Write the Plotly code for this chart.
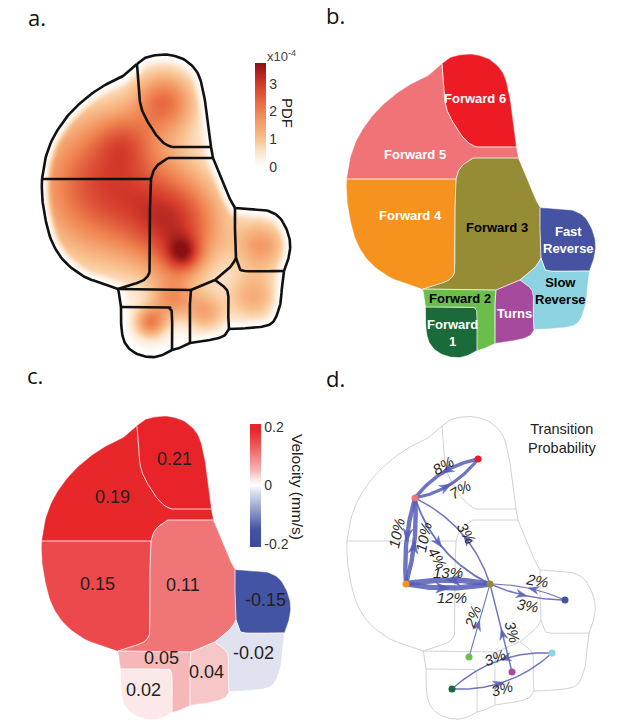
import numpy as np
import plotly.graph_objects as go
from plotly.colors import sample_colorscale

W, H = 617, 724
BOX_W, BOX_H = 305, 362
FONT = "Liberation Sans, Arial, sans-serif"

# ---------------- data ----------------
regions = ["Forward 6", "Forward 5", "Forward 4", "Forward 3", "Fast Reverse",
           "Slow Reverse", "Turns", "Forward 2", "Forward 1"]
region_labels = ["Forward 6", "Forward 5", "Forward 4", "Forward 3", "Fast<br>Reverse",
                 "Slow<br>Reverse", "Turns", "Forward 2", "Forward<br>1"]
region_colors = ["#ed1c24", "#f07377", "#f6921e", "#968c35", "#4653a2",
                 "#8dd3e1", "#a54a9c", "#6abf4b", "#1b6a39"]
label_font_colors = ["white", "white", "white", "black", "white",
                     "black", "white", "black", "white"]
velocity = [0.21, 0.19, 0.15, 0.11, -0.15, -0.02, 0.04, 0.05, 0.02]

# PDF density peaks (units x10^-4)
pdf_peak_u = [105, 123, 178, 183, 175, 165, 262, 253, 205, 150, 172]
pdf_peak_v = [185, 140, 225, 253, 270, 100, 245, 296, 312, 322, 300]
pdf_peak_amp = [2.8, 0.9, 2.3, 1.5, 0.5, 1.9, 1.5, 1.3, 1.3, 1.9, 1.3]
pdf_peak_spread = [52, 20, 34, 12, 20, 22, 18, 18, 14, 11, 14]

pdf_ticks = [0, 1, 2, 3]
vel_ticks = [-0.2, 0, 0.2]
vel_ticktext = ["-0.2", "0", "0.2"]

edge_src = ["Forward 6", "Forward 5", "Forward 5", "Forward 4", "Forward 5", "Forward 3",
            "Forward 3", "Forward 4", "Fast Reverse", "Forward 3", "Forward 2", "Turns",
            "Slow Reverse", "Forward 1"]
edge_dst = ["Forward 5", "Forward 6", "Forward 4", "Forward 5", "Forward 3", "Forward 5",
            "Forward 4", "Forward 3", "Forward 3", "Fast Reverse", "Forward 3", "Forward 3",
            "Forward 1", "Slow Reverse"]
edge_pct = [8, 7, 10, 10, 4, 3, 13, 12, 2, 3, 2, 3, 3, 3]

# ---------------- layout / style ----------------
edge_bend = [7, 7, 4, 4, 12, 12, 4, 4, 4, 4, 0, 0, 11, 11]
ARROW_T = 0.42
edge_label_pos = [(138, 103), (155, 127), (91, 171), (118, 175), (133, 196), (162, 171),
                  (143, 210), (147, 235), (232, 218), (223, 243), (167, 255), (208, 270),
                  (190, 295), (197, 326)]
edge_label_angle = [-30, -30, -78, -78, 60, 60, 0, 0, 10, 10, -70, 75, -20, -15]

label_pos_b = [(170, 98), (110, 154), (105, 215), (192, 227), (263, 240),
               (255, 291), (209, 313), (155, 298), (147, 333)]
label_pos_c = [(174, 97), (112, 135), (97, 222), (183, 223), (265, 238),
               (253, 291), (206, 310), (161, 296), (143, 328)]
node_pos_d = [(173, 97), (110, 136), (101, 222), (185, 222), (260, 238),
              (247, 291), (207, 310), (164, 295), (147, 327)]

# shape geometry (local pixel coords of one panel box)
SEGS = {
    "O_top": [(137, 64), (145, 58), (157, 55), (170, 55), (185, 60), (197, 72), (203, 90),
              (207, 115), (210, 135), (211, 147)],
    "O_strip": [(211, 147), (212, 152), (213, 158)],
    "O_F3r": [(213, 158), (217, 168), (222, 180), (228, 195), (235, 208)],
    "O_FR": [(235, 208), (250, 209), (265, 210), (278, 216), (286, 228), (290, 242),
             (289, 256), (284, 271)],
    "O_SR": [(284, 271), (282, 285), (281, 300), (278, 312), (273, 322), (265, 326),
             (250, 328), (229, 329)],
    "O_Turns": [(229, 329), (225, 335), (215, 339), (190, 343)],
    "O_F2b": [(190, 343), (182, 347), (172, 350)],
    "O_F1": [(172, 350), (165, 354), (155, 357), (143, 356), (132, 351), (125, 343),
             (122, 333), (121, 320), (121, 307)],
    "O_F2l": [(121, 307), (120, 298), (118, 289)],
    "O_F4": [(118, 289), (102, 283), (85, 277), (65, 262), (52, 242), (45, 217),
             (42, 195), (42, 179)],
    "O_F5": [(42, 179), (45, 160), (52, 140), (63, 122), (75, 108), (90, 95), (105, 85),
             (120, 78), (130, 70), (137, 64)],
    "B_F6F5": [(137, 64), (138, 80), (139, 95), (142, 110), (149, 124), (157, 136),
               (165, 144), (172, 147)],
    "B_F6bot": [(172, 147), (211, 147)],
    "B_F3top": [(168, 158), (213, 158)],
    "B_F3tl": [(168, 158), (160, 163), (154, 170), (151, 179)],
    "B_F5F4": [(42, 179), (151, 179)],
    "B_F4F3": [(151, 179), (150, 200), (150, 240), (150, 268), (147, 277), (140, 282),
               (130, 285), (118, 289)],
    "B_F2top": [(118, 289), (191, 290)],
    "B_F3Tu": [(191, 290), (200, 286), (215, 280)],
    "B_F3SR": [(215, 280), (225, 272), (232, 265), (236, 258)],
    "B_F3FR": [(236, 258), (235, 240), (235, 222), (235, 208)],
    "B_FRSR": [(236, 258), (239, 266), (245, 271), (284, 271)],
    "B_TuSR": [(215, 280), (222, 285), (228, 293), (228, 310), (229, 329)],
    "B_TuF2": [(191, 290), (190, 300), (190, 320), (190, 343)],
    "B_F1F2": [(121, 307), (165, 307), (170, 309), (172, 315), (172, 350)],
}
REGION_PATHS = [
    [("O_top", 0), ("B_F6bot", 1), ("B_F6F5", 1)],
    [("O_F5", 0), ("B_F6F5", 0), ("B_F6bot", 0), ("O_strip", 0), ("B_F3top", 1),
     ("B_F3tl", 0), ("B_F5F4", 1)],
    [("B_F5F4", 0), ("B_F4F3", 0), ("O_F4", 0)],
    [("B_F3top", 0), ("O_F3r", 0), ("B_F3FR", 1), ("B_F3SR", 1), ("B_F3Tu", 1),
     ("B_F2top", 1), ("B_F4F3", 1), ("B_F3tl", 1)],
    [("O_FR", 0), ("B_FRSR", 1), ("B_F3FR", 0)],
    [("B_FRSR", 0), ("O_SR", 0), ("B_TuSR", 1), ("B_F3SR", 0)],
    [("B_F3Tu", 0), ("B_TuSR", 0), ("O_Turns", 0), ("B_TuF2", 1)],
    [("B_F2top", 0), ("B_TuF2", 0), ("O_F2b", 0), ("B_F1F2", 1), ("O_F2l", 0)],
    [("B_F1F2", 0), ("O_F1", 0)],
]
OUTLINE = ["O_top", "O_strip", "O_F3r", "O_FR", "O_SR", "O_Turns", "O_F2b", "O_F1",
           "O_F2l", "O_F4", "O_F5"]


def smooth(pts, n=8):
    P = np.array(pts, float)
    if len(P) < 3:
        return P
    ext = np.vstack([2 * P[0] - P[1], P, 2 * P[-1] - P[-2]])
    out = []
    for i in range(1, len(ext) - 2):
        p0, p1, p2, p3 = ext[i - 1], ext[i], ext[i + 1], ext[i + 2]
        for t in np.linspace(0, 1, n, endpoint=False):
            t2, t3 = t * t, t * t * t
            out.append(0.5 * (2 * p1 + (-p0 + p2) * t + (2 * p0 - 5 * p1 + 4 * p2 - p3) * t2
                              + (-p0 + 3 * p1 - 3 * p2 + p3) * t3))
    out.append(P[-1])
    return np.array(out)


S = {k: smooth(v) for k, v in SEGS.items()}


def region_poly(i):
    parts = []
    for name, rev in REGION_PATHS[i]:
        p = S[name][::-1] if rev else S[name]
        parts.append(p)
    return np.vstack(parts)


outline = np.vstack([S[k] for k in OUTLINE])

fig = go.Figure()
ax = {"a": ("x", "y"), "b": ("x2", "y2"), "c": ("x3", "y3"), "d": ("x4", "y4")}


def line_tr(p, panel, color, width):
    xa, ya = ax[panel]
    return go.Scatter(x=p[:, 0], y=p[:, 1], xaxis=xa, yaxis=ya, mode="lines",
                      line=dict(color=color, width=width), hoverinfo="skip", showlegend=False)


# ---------- panel a : PDF heatmap ----------
gu = np.arange(36, 302, 2.0)
gv = np.arange(46, 362, 2.0)
UU, VV = np.meshgrid(gu, gv)
dens = np.zeros_like(UU)
for u0, v0, a, s in zip(pdf_peak_u, pdf_peak_v, pdf_peak_amp, pdf_peak_spread):
    dens += a * np.exp(-((UU - u0) ** 2 + (VV - v0) ** 2) / (2.0 * s * s))


def inside(px, py, poly):
    x, y = poly[:, 0], poly[:, 1]
    res = np.zeros(px.shape, bool)
    j = len(x) - 1
    for i in range(len(x)):
        cond = ((y[i] > py) != (y[j] > py)) & \
               (px < (x[j] - x[i]) * (py - y[i]) / ((y[j] - y[i]) + 1e-12) + x[i])
        res ^= cond
        j = i
    return res


mask = inside(UU, VV, outline)
flatU, flatV = UU.ravel(), VV.ravel()
dist = np.empty(flatU.shape)
for k in range(0, len(flatU), 3000):
    du = flatU[k:k + 3000, None] - outline[None, :, 0]
    dv = flatV[k:k + 3000, None] - outline[None, :, 1]
    dist[k:k + 3000] = np.sqrt(du * du + dv * dv).min(axis=1)
dist = dist.reshape(UU.shape)
f = np.clip(dist / 11.0, 0, 1)
fade = f * f * (3 - 2 * f)
z = np.where(mask, dens * fade, 0.0)

pdf_scale = [[0, "#ffffff"], [0.133, "#fde6cf"], [0.267, "#f8c28f"], [0.533, "#ef8350"],
             [0.8, "#d43a2a"], [1, "#8a1014"]]
fig.add_trace(go.Heatmap(
    x=gu, y=gv, z=np.round(z, 3), xaxis="x", yaxis="y", zmin=0, zmax=3.75,
    colorscale=pdf_scale, zsmooth="best", hoverinfo="skip",
    colorbar=dict(thickness=11, thicknessmode="pixels", len=104, lenmode="pixels",
                  x=255 / W, xanchor="left", y=1 - 115 / H, yanchor="middle",
                  xpad=0, ypad=0, outlinewidth=0, tickvals=pdf_ticks, ticks="",
                  tickfont=dict(size=14, color="#333", family=FONT))))
for k in SEGS:
    fig.add_trace(line_tr(S[k], "a", "#111111", 2.6))

# ---------- panel b : regions ----------
for i, r in enumerate(regions):
    p = region_poly(i)
    fig.add_trace(go.Scatter(x=p[:, 0], y=p[:, 1], xaxis="x2", yaxis="y2", mode="lines",
                             fill="toself", fillcolor=region_colors[i],
                             line=dict(width=0.5, color=region_colors[i]),
                             hoverinfo="skip", showlegend=False))
for k in SEGS:
    if k.startswith("B_"):
        fig.add_trace(line_tr(S[k], "b", "rgba(255,255,255,0.9)", 0.9))

# ---------- panel c : velocity ----------
vmin, vmax = -0.21, 0.21
vel_scale = [[0, "#3a4b9f"], [0.1429, "#4354a4"], [0.4524, "#e1e2ef"], [0.5, "#ffffff"],
             [0.5476, "#fce8e8"], [0.619, "#f5b7b8"], [0.7619, "#f07577"],
             [0.8571, "#ec494c"], [0.9524, "#e8272b"], [1, "#e8242a"]]
fills_c = sample_colorscale(vel_scale, [(v - vmin) / (vmax - vmin) for v in velocity])
for i, r in enumerate(regions):
    p = region_poly(i)
    fig.add_trace(go.Scatter(x=p[:, 0], y=p[:, 1], xaxis="x3", yaxis="y3", mode="lines",
                             fill="toself", fillcolor=fills_c[i],
                             line=dict(width=0.5, color=fills_c[i]),
                             hoverinfo="skip", showlegend=False))
for k in SEGS:
    if k.startswith("B_"):
        fig.add_trace(line_tr(S[k], "c", "rgba(255,255,255,0.9)", 0.9))
fig.add_trace(go.Scatter(
    x=[-50], y=[-50], xaxis="x3", yaxis="y3", mode="markers", hoverinfo="skip",
    showlegend=False,
    marker=dict(size=1, color=[0], colorscale=vel_scale, cmin=vmin, cmax=vmax, showscale=True,
                colorbar=dict(thickness=11, thicknessmode="pixels", len=123, lenmode="pixels",
                              x=250 / W, xanchor="left", y=1 - 485.5 / H, yanchor="middle",
                              xpad=0, ypad=0, outlinewidth=0, tickvals=vel_ticks,
                              ticktext=vel_ticktext, ticks="",
                              tickfont=dict(size=14, color="#333", family=FONT)))))

# ---------- panel d : transitions ----------
for k in SEGS:
    fig.add_trace(line_tr(S[k], "d", "#d2d2d2", 1))

EDGE_COLOR = "rgba(84,92,182,0.85)"
idx = {r: i for i, r in enumerate(regions)}
for s_, d_, pct, bend in zip(edge_src, edge_dst, edge_pct, edge_bend):
    p0 = np.array(node_pos_d[idx[s_]], float)
    p2 = np.array(node_pos_d[idx[d_]], float)
    dvec = p2 - p0
    L = np.hypot(*dvec)
    tn0 = dvec / L
    nn0 = np.array([-tn0[1], tn0[0]])
    c = (p0 + p2) / 2 + nn0 * 2 * bend
    t = np.linspace(0, 1, 50)[:, None]
    pts = (1 - t) ** 2 * p0 + 2 * (1 - t) * t * c + t ** 2 * p2
    fig.add_trace(line_tr(pts, "d", EDGE_COLOR, 0.42 * pct + 0.2))
    ta = ARROW_T
    m = (1 - ta) ** 2 * p0 + 2 * (1 - ta) * ta * c + ta ** 2 * p2
    tg = 2 * (1 - ta) * (c - p0) + 2 * ta * (p2 - c)
    tn = tg / np.hypot(*tg)
    nn = np.array([-tn[1], tn[0]])
    al = 10 + 0.3 * pct
    aw = 7.5 + 0.25 * pct
    tip = m + tn * al * 0.6
    back = m - tn * al * 0.4
    notch = m - tn * al * 0.1
    poly = np.array([tip, back + nn * aw / 2, notch, back - nn * aw / 2, tip])
    fig.add_trace(go.Scatter(x=poly[:, 0], y=poly[:, 1], xaxis="x4", yaxis="y4",
                             mode="lines", fill="toself", fillcolor=EDGE_COLOR,
                             line=dict(width=0.5, color=EDGE_COLOR), hoverinfo="skip",
                             showlegend=False))
fig.add_trace(go.Scatter(x=[p[0] for p in node_pos_d], y=[p[1] for p in node_pos_d],
                         xaxis="x4", yaxis="y4", mode="markers",
                         marker=dict(size=7, color=region_colors, line=dict(width=0)),
                         hoverinfo="skip", showlegend=False))

# ---------- annotations ----------
C = dict(xanchor="center", yanchor="middle", showarrow=False)
ann = []
for i in range(len(regions)):
    ann.append(dict(x=label_pos_b[i][0], y=label_pos_b[i][1], xref="x2", yref="y2",
                    text="<b>%s</b>" % region_labels[i],
                    font=dict(size=13, color=label_font_colors[i], family=FONT), **C))
    ann.append(dict(x=label_pos_c[i][0], y=label_pos_c[i][1], xref="x3", yref="y3",
                    text="%.2f" % velocity[i],
                    font=dict(size=18, color="#231f20", family=FONT), **C))
for (lx, ly), ang, pct in zip(edge_label_pos, edge_label_angle, edge_pct):
    ann.append(dict(x=lx, y=ly, xref="x4", yref="y4", text="<i>%d%%</i>" % pct,
                    textangle=ang, font=dict(size=15, color="#2a2a2a", family=FONT), **C))
ann.append(dict(x=257, y=76, xref="x4", yref="y4", text="Transition<br>Probability",
                font=dict(size=14.5, color="#222", family=FONT), **C))
ann.append(dict(x=288 / W, y=1 - 113 / H, xref="paper", yref="paper", text="PDF",
                textangle=90, font=dict(size=15, color="#222", family=FONT), **C))
ann.append(dict(x=281 / W, y=1 - 56 / H, xref="paper", yref="paper",
                text="x10<sup>-4</sup>", font=dict(size=13, color="#444", family=FONT), **C))
ann.append(dict(x=298 / W, y=1 - 487 / H, xref="paper", yref="paper",
                text="Velocity (mm/s)", textangle=90,
                font=dict(size=15.5, color="#222", family=FONT), **C))
for txt, px, py in [("a.", 37, 17), ("b.", 335, 15), ("c.", 35, 375), ("d.", 335, 378)]:
    ann.append(dict(x=px / W, y=1 - py / H, xref="paper", yref="paper", text=txt,
                    font=dict(size=22, color="#111", family="Open Sans"), **C))

axis_common = dict(visible=False, fixedrange=True)
xa_l = [0, BOX_W / W]
xa_r = [BOX_W / W, 2 * BOX_W / W]
fig.update_layout(
    width=W, height=H, margin=dict(l=0, r=0, t=0, b=0),
    paper_bgcolor="white", plot_bgcolor="white", showlegend=False,
    annotations=ann,
    xaxis=dict(domain=xa_l, range=[0, BOX_W], **axis_common),
    xaxis2=dict(domain=xa_r, range=[0, BOX_W], **axis_common),
    xaxis3=dict(domain=xa_l, range=[0, BOX_W], **axis_common),
    xaxis4=dict(domain=xa_r, range=[0, BOX_W], **axis_common),
    yaxis=dict(domain=[0.5, 1], range=[BOX_H, 0], **axis_common),
    yaxis2=dict(domain=[0.5, 1], range=[BOX_H, 0], **axis_common),
    yaxis3=dict(domain=[0, 0.5], range=[BOX_H, 0], **axis_common),
    yaxis4=dict(domain=[0, 0.5], range=[BOX_H, 0], **axis_common),
)
fig.write_html("out.html", config={"displayModeBar": False},
               post_script="document.body.style.margin='0';")
